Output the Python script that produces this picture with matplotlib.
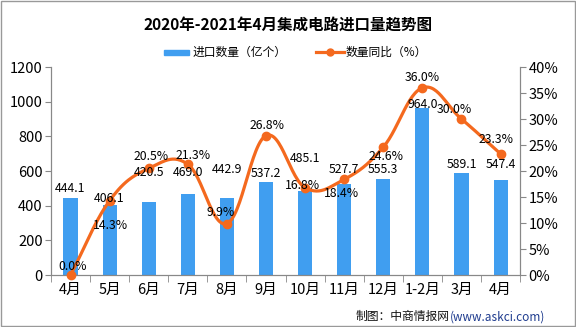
import numpy as np
import matplotlib.pyplot as plt
from matplotlib.patches import Rectangle
from matplotlib.ticker import FuncFormatter
from matplotlib.transforms import offset_copy

plt.rcParams['font.family'] = ['Noto Sans CJK SC', 'DejaVu Sans']

# 数据
months = ['4月', '5月', '6月', '7月', '8月', '9月', '10月', '11月', '12月', '1-2月', '3月', '4月']
import_qty = [444.1, 406.1, 420.5, 469.0, 442.9, 537.2, 485.1, 527.7, 555.3, 964.0, 589.1, 547.4]
yoy_pct = [0.0, 14.3, 20.5, 21.3, 9.9, 26.8, 16.8, 18.4, 24.6, 36.0, 30.0, 23.3]

# 标签偏移 (像素, 相对柱顶 / 折线点)
bar_lab_dy = [10, 6, 30, 21, 29, 8, 32, 14, 9, 3, 8, 16]
pct_lab_dx = [2, 1, 2, 5, -6, 1, -3, -3, 3, 0, -7, -5]
pct_lab_dy = [9, -25, 12, 9, 11, 10, 2, -14, -9, 10, 10, 14]

BLUE = '#409ef0'
ORANGE = '#f4691e'


def catmull_rom(x, y, n=30, k=1.15):
    """平滑曲线 (类似Excel平滑线)"""
    x = np.asarray(x, float)
    y = np.asarray(y, float)
    px = np.concatenate([[2 * x[0] - x[1]], x, [2 * x[-1] - x[-2]]])
    py = np.concatenate([[2 * y[0] - y[1]], y, [2 * y[-1] - y[-2]]])
    xs, ys = [], []
    t = np.linspace(0, 1, n)
    h00 = 2 * t ** 3 - 3 * t ** 2 + 1
    h10 = t ** 3 - 2 * t ** 2 + t
    h01 = -2 * t ** 3 + 3 * t ** 2
    h11 = t ** 3 - t ** 2
    for i in range(1, len(px) - 2):
        for p, out in ((px, xs), (py, ys)):
            m1 = k * (p[i + 1] - p[i - 1]) / 2
            m2 = k * (p[i + 2] - p[i]) / 2
            out.extend(h00 * p[i] + h10 * m1 + h01 * p[i + 1] + h11 * m2)
    return np.array(xs), np.array(ys)


fig = plt.figure(figsize=(5.76, 3.27), dpi=100)
ax = fig.add_axes([0.0885, 0.159, 0.8145, 0.636])
ax2 = ax.twinx()

x = np.arange(len(months))
ax.bar(x, import_qty, width=0.36, color=BLUE, zorder=2)
ax.set_xlim(-0.5, len(months) - 0.5)
ax.set_ylim(0, 1200)
ax.set_yticks(range(0, 1201, 200))

ax2.set_ylim(0, 40)
ax2.set_yticks(range(0, 41, 5))
ax2.yaxis.set_major_formatter(FuncFormatter(lambda v, p: f'{v:.0f}%'))

sx, sy = catmull_rom(x, yoy_pct)
ax2.plot(sx, sy, color=ORANGE, lw=2.3, clip_on=False, zorder=3)
ax2.plot(x, yoy_pct, 'o', color=ORANGE, ms=6, clip_on=False, zorder=4)

ax.set_xticks(x)
ax.set_xticklabels(months, fontsize=10.5)
ax.set_xticks(np.arange(-0.5, len(months), 1), minor=True)
ax.tick_params(axis='x', which='major', length=0, pad=6)
ax.tick_params(axis='x', which='minor', length=5, color='#888888')
ax.tick_params(axis='y', labelsize=10.5, length=4, color='#888888', pad=2)
ax2.tick_params(axis='y', labelsize=10.5, length=4, color='#888888', pad=2)

for a in (ax, ax2):
    a.spines['top'].set_visible(False)
    for s in ('left', 'right', 'bottom'):
        a.spines[s].set_color('#888888')
        a.spines[s].set_linewidth(0.8)

# 数据标签
for i in range(len(months)):
    tr = offset_copy(ax.transData, fig=fig, x=0, y=bar_lab_dy[i], units='dots')
    ax2.text(x[i], import_qty[i], f'{import_qty[i]:.1f}', transform=tr,
             ha='center', va='center', fontsize=8.8, zorder=5)
    tr2 = offset_copy(ax2.transData, fig=fig, x=pct_lab_dx[i], y=pct_lab_dy[i], units='dots')
    ax2.text(x[i], yoy_pct[i], f'{yoy_pct[i]:.1f}%', transform=tr2,
             ha='center', va='center', fontsize=8.8, zorder=5)

# 标题与图例
fig.text(0.5, 0.922, '2020年-2021年4月集成电路进口量趋势图', ha='center', va='center',
         fontsize=11.2, fontweight='bold')
lx, ly = 0.285, 0.84
fig.patches.append(Rectangle((lx, ly - 0.0075), 0.043, 0.015, transform=fig.transFigure,
                             color=BLUE))
fig.text(lx + 0.05, ly, '进口数量（亿个）', ha='left', va='center', fontsize=8.5)
fig.lines.append(plt.Line2D([0.548, 0.597], [ly, ly], transform=fig.transFigure,
                            color=ORANGE, lw=2.3))
fig.lines.append(plt.Line2D([0.5725], [ly], transform=fig.transFigure,
                            color=ORANGE, marker='o', ms=5))
fig.text(0.6, ly, '数量同比（%）', ha='left', va='center', fontsize=8.5)

# 来源
fig.text(0.781, 0.031, '制图：中商情报网', ha='right', va='center', fontsize=8.5, color='#111111')
fig.text(0.781, 0.031, '(www.askci.com)', ha='left', va='center', fontsize=8.5, color='#1f3c8f')

fig.patches.append(Rectangle((0.001, 0.002), 0.997, 0.995, transform=fig.transFigure,
                             fill=False, edgecolor='#999999', lw=1))

fig.savefig('out.png', dpi=100)
